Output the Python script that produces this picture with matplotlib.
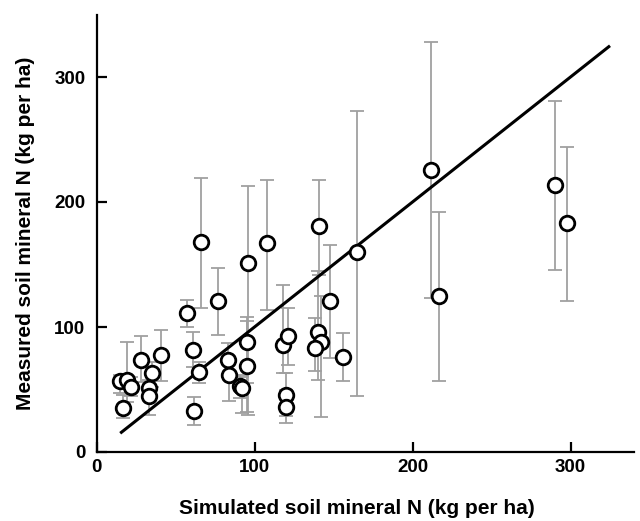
import matplotlib
matplotlib.use("Agg")
import matplotlib.pyplot as plt
import numpy as np

plt.rcParams['font.family'] = ['Liberation Sans', 'DejaVu Sans']

# Simulated (x), measured (y) soil mineral N with measured ranges
sim = [15, 19, 22, 17, 28, 41, 35, 33, 33, 57, 61, 65, 62, 77, 83, 84, 91, 92, 95, 95,
       66, 96, 108, 118, 121, 120, 120, 140, 142, 138, 141, 148, 156, 165, 212, 217, 290, 298]
meas = [57, 58, 52, 35, 74, 78, 63, 51, 45, 111, 82, 64, 33, 121, 74, 62, 53, 51, 88, 69,
        168, 151, 167, 86, 93, 46, 36, 96, 88, 83, 181, 121, 76, 160, 226, 125, 214, 183]
low = [47, 40, 45, 27, 56, 57, 52, 44, 30, 100, 68, 55, 22, 94, 60, 41, 43, 31, 55, 32,
       115, 30, 114, 63, 70, 29, 23, 58, 28, 65, 142, 75, 57, 45, 123, 57, 146, 121]
high = [62, 88, 60, 46, 93, 98, 72, 58, 50, 122, 96, 72, 44, 147, 87, 75, 62, 60, 108, 105,
        219, 213, 218, 134, 115, 63, 50, 145, 125, 107, 218, 166, 95, 273, 328, 192, 281, 244]

line_x = [15, 325]
x_ticks = [0, 100, 200, 300]
y_ticks = [0, 100, 200, 300]

sim = np.array(sim); meas = np.array(meas); low = np.array(low); high = np.array(high)

fig = plt.figure(figsize=(6.4, 5.21), dpi=100)
ax = fig.add_axes([96.5/640, 69/521, (1.58*340)/640, 437.5/521])

ax.errorbar(sim, meas, yerr=[meas - low, high - meas], fmt='none', ecolor='#a0a0a0',
            elinewidth=1.3, capsize=5, capthick=1.3, zorder=2)
ax.plot(line_x, line_x, color='black', lw=2.2, zorder=3, solid_capstyle='butt')
ax.plot(sim, meas, 'o', ms=10.5, mfc='white', mec='black', mew=2.0, zorder=4)

ax.set_xlim(0, 340)
ax.set_ylim(0, 350)
ax.set_xticks(x_ticks)
ax.set_yticks(y_ticks)
for s in ['top', 'right']:
    ax.spines[s].set_visible(False)
for s in ['left', 'bottom']:
    ax.spines[s].set_linewidth(1.6)
ax.tick_params(direction='in', length=7, width=1.6, labelsize=13.5)
ax.tick_params(axis='x', pad=5)
ax.tick_params(axis='y', pad=8)
for lab in ax.get_xticklabels() + ax.get_yticklabels():
    lab.set_fontweight('bold')

ax.set_xlabel('Simulated soil mineral N (kg per ha)', fontsize=15, fontweight='bold')
ax.set_ylabel('Measured soil mineral N (kg per ha)', fontsize=15, fontweight='bold', labelpad=14)
ax.xaxis.set_label_coords(0.485, -0.108)

fig.savefig('out.png', dpi=100)
